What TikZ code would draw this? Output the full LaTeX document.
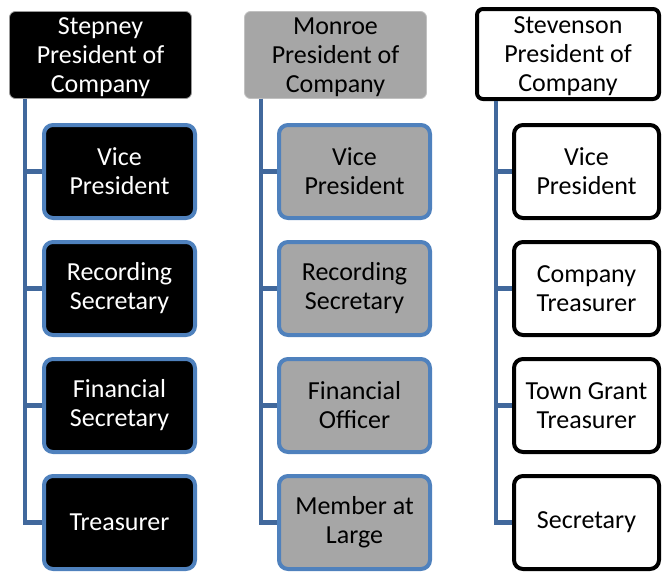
\documentclass[tikz,border=0pt]{standalone}
\usepackage{fontspec}
\setmainfont{Carlito}
\usepackage{xcolor}
\usetikzlibrary{positioning}
\definecolor{linkblue}{HTML}{41689C}
\definecolor{boxblue}{HTML}{4F81BD}
\definecolor{boxgray}{HTML}{A6A6A6}

\begin{document}
\begin{tikzpicture}[x=1pt, y=-1pt, node distance=20pt, head/.style={rounded corners=6pt, minimum width=182pt, minimum height=87pt, inner sep=0pt, text depth=-4pt, align=center, font=\fontsize{26}{29}\selectfont}, office/.style={rounded corners=9pt, line width=4pt, minimum width=151pt, minimum height=93pt, inner sep=0pt, align=center, font=\fontsize{26}{29}\selectfont}, link/.style={draw=linkblue, line width=4.5pt}]
    \useasboundingbox (0,0) rectangle (662,571);

    %Nodes
    \node[head, fill=black, draw=black!40, line width=0.8pt, text=white](s_top) at (100.5,55){Stepney\\President of\\Company};
    \node[office, fill=black, draw=boxblue, text=white](s_vp) at (119.5,171.5){Vice\\President};
    \node[office, fill=black, draw=boxblue, text=white](s_rec)[below=of s_vp]{Recording\\Secretary};
    \node[office, fill=black, draw=boxblue, text=white](s_fin)[below=of s_rec]{Financial\\Secretary};
    \node[office, fill=black, draw=boxblue, text=white](s_trs)[below=of s_fin]{Treasurer};

    \node[head, fill=boxgray, draw=boxgray!70, line width=0.8pt](m_top) at (335.5,55){Monroe\\President of\\Company};
    \node[office, fill=boxgray, draw=boxblue](m_vp) at (354.5,171.5){Vice\\President};
    \node[office, fill=boxgray, draw=boxblue](m_rec)[below=of m_vp]{Recording\\Secretary};
    \node[office, fill=boxgray, draw=boxblue](m_fin)[below=of m_rec]{Financial\\Officer};
    \node[office, fill=boxgray, draw=boxblue](m_mem)[below=of m_fin]{Member at\\Large};

    \node[head, fill=white, draw=black, line width=4pt, minimum height=90pt](v_top) at (568,54){Stevenson\\President of\\Company};
    \node[office, fill=white, draw=black, minimum width=145pt](v_vp) at (586.5,171.5){Vice\\President};
    \node[office, fill=white, draw=black, minimum width=145pt](v_trs)[below=of v_vp]{Company\\Treasurer};
    \node[office, fill=white, draw=black, minimum width=145pt](v_grant)[below=of v_trs]{Town Grant\\Treasurer};
    \node[office, fill=white, draw=black, minimum width=145pt](v_sec)[below=of v_grant]{Secretary};

    \path (s_top.south west) ++(16,0) coordinate (s_spine);
    \path (m_top.south west) ++(17,0) coordinate (m_spine);
    \path (v_top.south west) ++(21,0) coordinate (v_spine);

    %Lines
    \draw[link] (s_spine) |- (s_vp.west);
    \draw[link] (s_spine) |- (s_rec.west);
    \draw[link] (s_spine) |- (s_fin.west);
    \draw[link] (s_spine) |- (s_trs.west);
    \draw[link] (m_spine) |- (m_vp.west);
    \draw[link] (m_spine) |- (m_rec.west);
    \draw[link] (m_spine) |- (m_fin.west);
    \draw[link] (m_spine) |- (m_mem.west);
    \draw[link] (v_spine) |- (v_vp.west);
    \draw[link] (v_spine) |- (v_trs.west);
    \draw[link] (v_spine) |- (v_grant.west);
    \draw[link] (v_spine) |- (v_sec.west);

\end{tikzpicture}
\end{document}
